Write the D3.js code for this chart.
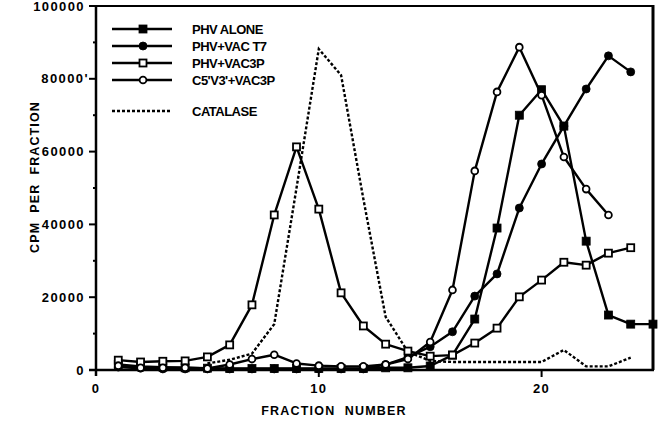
<!DOCTYPE html>
<html>
<head>
<meta charset="utf-8">
<script src="https://cdn.jsdelivr.net/npm/d3@7"></script>
<style>
  body { margin: 0; background: #fff; }
  svg { display: block; font-family: 'Liberation Sans', Arial, sans-serif; }
</style>
</head>
<body>
<svg id="chart" width="664" height="424"></svg>
<script>
var fractions = d3.range(1, 26)

var phvAlone = [1500, 1000, 800, 600, 500, 400, 400, 400, 400, 400, 400, 400, 600, 600, 1100, 4100, 14000, 39000, 70000, 77000, 67000, 35400, 15100, 12600, 12600]
var phvVacT7 = [800, 500, 300, 300, 300, 300, 300, 300, 300, 300, 300, 300, 1500, 3500, 6400, 10500, 20300, 26400, 44500, 56600, 67000, 77200, 86300, 81900]
var phvVac3p = [2700, 2200, 2400, 2500, 3600, 6900, 17900, 42600, 61300, 44200, 21200, 12100, 7100, 5200, 3800, 4100, 7400, 11500, 20100, 24700, 29600, 28800, 32100, 33600]
var c5v3Vac3p = [1200, 600, 600, 600, 400, 1500, 3000, 4200, 1800, 1200, 1000, 1000, 1500, 3000, 7700, 22000, 54700, 76400, 88700, 75500, 58500, 49700, 42600]
var catalaseFractions = d3.range(5, 25)
var catalase = [1800, 2800, 4500, 12600, 50000, 88200, 81000, 47000, 14600, 5000, 2500, 2200, 2200, 2200, 2200, 2200, 5500, 1000, 1000, 3400]

var yTickValues = [0, 20000, 40000, 60000, 80000, 100000]
var yTickLabels = ['0', '20000', '40000', '60000', "80000'", '100000']
var yMinorTicks = [10000, 30000, 50000, 70000, 90000]
var xTickValues = [0, 10, 20]

var series = [
    { name: 'PHV ALONE', values: phvAlone, x: fractions, marker: 'square', filled: true },
    { name: 'PHV+VAC T7', values: phvVacT7, x: fractions, marker: 'circle', filled: true },
    { name: 'PHV+VAC3P', values: phvVac3p, x: fractions, marker: 'square', filled: false },
    { name: "C5'V3'+VAC3P", values: c5v3Vac3p, x: fractions, marker: 'circle', filled: false }
]

var svg = d3.select('#chart')

var xScale = d3.scaleLinear().domain([0, 25]).range([96, 653])
var yScale = d3.scaleLinear().domain([0, 100000]).range([370, 6])

function drawMarker(g, type, filled, cx, cy) {
    if (type === 'square') {
        var s = filled ? 8 : 7
        g.append('rect')
            .attr('x', cx - s / 2)
            .attr('y', cy - s / 2)
            .attr('width', s)
            .attr('height', s)
            .attr('fill', filled ? '#000' : '#fff')
            .attr('stroke', '#000')
            .attr('stroke-width', filled ? 0.8 : 1.8)
    } else {
        g.append('circle')
            .attr('cx', cx)
            .attr('cy', cy)
            .attr('r', filled ? 4 : 3.4)
            .attr('fill', filled ? '#000' : '#fff')
            .attr('stroke', '#000')
            .attr('stroke-width', filled ? 0.8 : 1.8)
    }
}

// frame (top and right)
svg.append('line')
    .attr('x1', xScale(0)).attr('x2', xScale(25))
    .attr('y1', yScale(100000)).attr('y2', yScale(100000))
    .attr('stroke', '#000').attr('stroke-width', 2)
svg.append('line')
    .attr('x1', xScale(25)).attr('x2', xScale(25))
    .attr('y1', yScale(100000) - 1).attr('y2', yScale(0))
    .attr('stroke', '#000').attr('stroke-width', 3)

// y axis
var yAxis = svg.append('g').attr('id', 'y-axis')
yAxis.append('line')
    .attr('x1', xScale(0)).attr('x2', xScale(0))
    .attr('y1', yScale(100000) - 1).attr('y2', yScale(0) + 6)
    .attr('stroke', '#000').attr('stroke-width', 2.5)
yAxis.selectAll('.major')
    .data(yTickValues)
    .enter()
    .append('line')
    .attr('class', 'major')
    .attr('x1', xScale(0) - 7).attr('x2', xScale(0))
    .attr('y1', yScale).attr('y2', yScale)
    .attr('stroke', '#000').attr('stroke-width', 2)
yAxis.selectAll('.minor')
    .data(yMinorTicks)
    .enter()
    .append('line')
    .attr('class', 'minor')
    .attr('x1', xScale(0) - 3).attr('x2', xScale(0))
    .attr('y1', yScale).attr('y2', yScale)
    .attr('stroke', '#000').attr('stroke-width', 2)
yAxis.selectAll('text')
    .data(yTickValues)
    .enter()
    .append('text')
    .attr('x', function (d, i) { return i === 4 ? xScale(0) - 7 : xScale(0) - 11 })
    .attr('y', yScale)
    .attr('dy', '0.36em')
    .attr('text-anchor', 'end')
    .attr('font-size', 13)
    .attr('font-weight', 'bold')
    .attr('letter-spacing', 1.4)
    .text(function (d, i) { return yTickLabels[i] })

// x axis
var xAxis = svg.append('g').attr('id', 'x-axis')
xAxis.append('line')
    .attr('x1', xScale(0) - 7).attr('x2', xScale(25) + 1)
    .attr('y1', yScale(0)).attr('y2', yScale(0))
    .attr('stroke', '#000').attr('stroke-width', 2.5)
xAxis.selectAll('.tick')
    .data(xTickValues.filter(function (d) { return d > 0 }))
    .enter()
    .append('line')
    .attr('class', 'tick')
    .attr('x1', xScale).attr('x2', xScale)
    .attr('y1', yScale(0)).attr('y2', yScale(0) + 7)
    .attr('stroke', '#000').attr('stroke-width', 2)
xAxis.selectAll('text')
    .data(xTickValues)
    .enter()
    .append('text')
    .attr('x', xScale)
    .attr('y', 393)
    .attr('text-anchor', 'middle')
    .attr('font-size', 13)
    .attr('font-weight', 'bold')
    .attr('letter-spacing', 1.4)
    .text(function (d) { return d })

// axis titles
svg.append('text')
    .attr('x', 334)
    .attr('y', 415)
    .attr('text-anchor', 'middle')
    .attr('font-size', 12.5)
    .attr('font-weight', 'bold')
    .attr('letter-spacing', 1.2)
    .style('white-space', 'pre')
    .text('FRACTION  NUMBER')
svg.append('text')
    .attr('transform', 'translate(39, 177) rotate(-90)')
    .attr('text-anchor', 'middle')
    .attr('font-size', 12.5)
    .attr('font-weight', 'bold')
    .attr('letter-spacing', 1.1)
    .style('white-space', 'pre')
    .text('CPM  PER  FRACTION')

// catalase (dotted)
var line = d3.line()
    .x(function (d) { return xScale(d[0]) })
    .y(function (d) { return yScale(d[1]) })

svg.append('path')
    .datum(d3.zip(catalaseFractions, catalase))
    .attr('d', line)
    .attr('fill', 'none')
    .attr('stroke', '#000')
    .attr('stroke-width', 2.4)
    .attr('stroke-dasharray', '3,2')

// series
var plot = svg.append('g').attr('id', 'plot')
series.forEach(function (s) {
    var pts = d3.zip(s.x.slice(0, s.values.length), s.values)
    plot.append('path')
        .datum(pts)
        .attr('d', line)
        .attr('fill', 'none')
        .attr('stroke', '#000')
        .attr('stroke-width', 2.4)
        .attr('stroke-linejoin', 'round')
})
series.forEach(function (s) {
    var g = plot.append('g')
    s.values.forEach(function (v, i) {
        drawMarker(g, s.marker, s.filled, xScale(s.x[i]), yScale(v))
    })
})

// legend
var legend = svg.append('g').attr('id', 'legend')
var legendRows = [29, 46, 63, 80]
series.forEach(function (s, i) {
    var g = legend.append('g')
    g.append('line')
        .attr('x1', 112).attr('x2', 172)
        .attr('y1', legendRows[i]).attr('y2', legendRows[i])
        .attr('stroke', '#000').attr('stroke-width', 2.4)
    drawMarker(g, s.marker, s.filled, 143, legendRows[i])
    g.append('text')
        .attr('x', 192)
        .attr('y', legendRows[i])
        .attr('dy', '0.36em')
        .attr('font-size', 13)
        .attr('font-weight', 'bold')
        .attr('letter-spacing', -0.5)
        .text(s.name)
})
legend.append('line')
    .attr('x1', 112).attr('x2', 170)
    .attr('y1', 111).attr('y2', 111)
    .attr('stroke', '#000').attr('stroke-width', 2.4)
    .attr('stroke-dasharray', '3,2')
legend.append('text')
    .attr('x', 192)
    .attr('y', 111)
    .attr('dy', '0.36em')
    .attr('font-size', 13)
    .attr('font-weight', 'bold')
    .attr('letter-spacing', -0.5)
    .text('CATALASE')
</script>
</body>
</html>
